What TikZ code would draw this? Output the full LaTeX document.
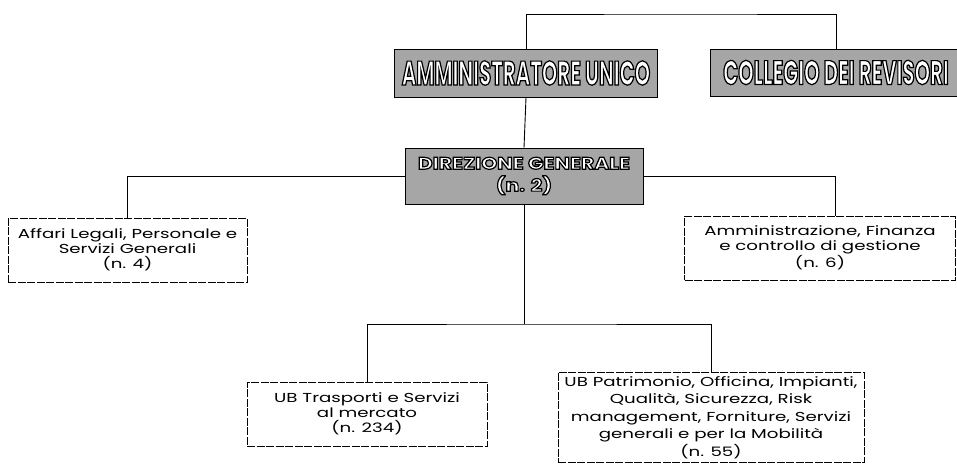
\documentclass[tikz,border=0pt]{standalone}
\usepackage{fontspec}
\setmainfont{Poppins}
\newfontfamily\officefont[FakeStretch=1.4]{Poppins}
\newfontfamily\boardfont[FakeStretch=0.58]{Poppins}
\newfontfamily\dirfont[FakeStretch=1.2]{Poppins}
\usetikzlibrary{positioning}
% white letters with a black outline
\newcommand\boardtext[1]{\textcolor{white}{%
  \special{pdf:literal direct 2 Tr 1.2 w 0 0 0 RG}#1%
  \special{pdf:literal direct 0 Tr}}}

\begin{document}
\begin{tikzpicture}[x=1pt,y=-1pt,
  board/.style={draw, line width=0.8pt, fill=black!35, inner sep=0pt,
    font=\boardfont\fontsize{34}{36}\selectfont\bfseries},
  office/.style={draw, line width=0.6pt, dash pattern=on 8pt off 1.5pt,
    align=center, inner sep=0pt, font=\officefont\fontsize{13}{15}\selectfont},
  link/.style={line width=0.9pt}]
\useasboundingbox (0,0) rectangle (957,463);

% Organi
\node[board, minimum width=263pt, minimum height=48pt] (amm) at (526,73)
  {\boardtext{AMMINISTRATORE UNICO}};
\node[board, minimum width=252pt, minimum height=47pt] (col) at (836,72.5)
  {\boardtext{COLLEGIO DEI REVISORI}};
\node[board, align=center, minimum width=238pt, minimum height=56pt,
  font=\dirfont\fontsize{17}{22}\selectfont\bfseries] (dir) at (524,176)
  {\boardtext{DIREZIONE GENERALE}\\\boardtext{(n. 2)}};

% Staff
\node[office, minimum width=239pt, minimum height=64pt] (legali) at (127.5,250)
  {Affari Legali, Personale e\\Servizi Generali\\(n. 4)};
\node[office, minimum width=271pt, minimum height=64pt] (finanza) at (820,248)
  {Amministrazione, Finanza\\e controllo di gestione\\(n. 6)};

% Unita di business
\node[office, minimum width=240pt, minimum height=64pt] (trasporti) at (367,414)
  {UB Trasporti e Servizi\\al mercato\\(n. 234)};
\node[office, anchor=north, minimum width=306pt, inner ysep=4pt,
  font=\officefont\fontsize{13}{17.5}\selectfont] (patrimonio) at (711,372)
  {UB Patrimonio, Officina, Impianti,\\Qualità, Sicurezza, Risk\\management, Forniture, Servizi\\generali e per la Mobilità\\(n. 55)};

% Collegamenti
\coordinate (top) at (680,14);
\coordinate (fork) at (524,324);
\draw[link] (amm.north) |- (top) -| (col.north);
\draw[link] (amm.south) -- (dir.north);
\draw[link] (dir.west) -| (legali.north);
\draw[link] (dir.east) -| ([xshift=15pt]finanza.north);
\draw[link] (dir.south) -- (fork);
\draw[link] (trasporti.north) |- (fork) -| (patrimonio.north);

\end{tikzpicture}
\end{document}
